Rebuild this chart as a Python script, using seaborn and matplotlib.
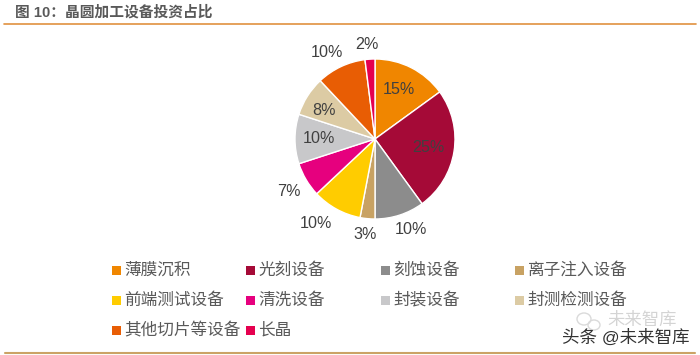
# wafer fab equipment investment share - pie chart

import matplotlib
matplotlib.use('Agg')
import matplotlib.pyplot as plt
import numpy as np
import seaborn as sns
from matplotlib.patches import Ellipse, Rectangle

sns.set_theme(style='white')
plt.rcParams['font.family'] = ['Liberation Sans', 'Noto Sans CJK SC', 'DejaVu Sans']

categories = ['薄膜沉积', '光刻设备', '刻蚀设备', '离子注入设备', '前端测试设备',
              '清洗设备', '封装设备', '封测检测设备', '其他切片等设备', '长晶']
shares = [15, 25, 10, 3, 10, 7, 10, 8, 10, 2]
colors = ['#F08600', '#A50A37', '#8C8C8C', '#C8A263', '#FFCC00',
          '#E6007E', '#C8C8CA', '#DCCBA4', '#E85D04', '#E5004F']
# how far each label sits from the centre (radii) and its nudge off the slice middle (deg)
label_dist = [0.69, 0.67, 1.22, 1.20, 1.29, 1.26, 0.70, 0.73, 1.24, 1.19]
label_turn = [1.4, 0, 3.6, -0.5, -6, 1, 0, 2.8, 3.8, 1.4]

W, H = 700, 355
text_grey = '#404040'

fig = plt.figure(figsize=(W / 100, H / 100), dpi=100, facecolor='white')

# pie: 160 px across, centred on (375, 139)
ax = fig.add_axes([(375 - 100) / W, 1 - (139 + 100) / H, 200 / W, 200 / H])
wedges, _ = ax.pie(shares, colors=sns.color_palette(colors), startangle=90,
                   counterclock=False, radius=0.8)
ax.set_xlim(-1, 1)
ax.set_ylim(-1, 1)

for w, s, d, t in zip(wedges, shares, label_dist, label_turn):
    ang = np.deg2rad((w.theta1 + w.theta2) / 2 + t)
    ax.text(0.8 * d * np.cos(ang), 0.8 * d * np.sin(ang), f'{s}%', ha='center',
            va='center', fontsize=11.6, color=text_grey)

# overlay in pixel coordinates for header, footer and the legend grid
over = fig.add_axes([0, 0, 1, 1], facecolor='none')
over.set_xlim(0, W)
over.set_ylim(H, 0)
over.axis('off')

over.text(15, 12, '图 10：晶圆加工设备投资占比', fontsize=10.6, fontweight='bold',
          color='#595959', va='center')
over.plot([4, 696], [24, 24], color='#E0913F', lw=1.2)
over.plot([5, 695], [353, 353], color='#CBA365', lw=1.5)

col_x = [112, 246, 381, 515]
row_y = [270, 300, 330]
for i, (name, c) in enumerate(zip(categories, colors)):
    x = col_x[i % 4]
    y = row_y[i // 4]
    over.add_patch(Rectangle((x, y - 4.5), 9, 9, color=c, lw=0))
    over.text(x + 12.5, y, name, fontsize=12, color='#595959', va='center')

# watermark: faded mark behind, darker line in front
over.add_patch(Ellipse((584, 319), 14, 12, fill=False, ec='#DADADA', lw=1))
over.add_patch(Ellipse((594, 325), 12, 10, fill=False, ec='#DADADA', lw=1))
over.text(642, 320, '未来智库', fontsize=12.5, color='#D4D4D4', va='center', ha='center')
over.text(626, 337, '头条 @未来智库', fontsize=12.6, color='#333333', va='center', ha='center')

fig.savefig('out.png', dpi=100)
